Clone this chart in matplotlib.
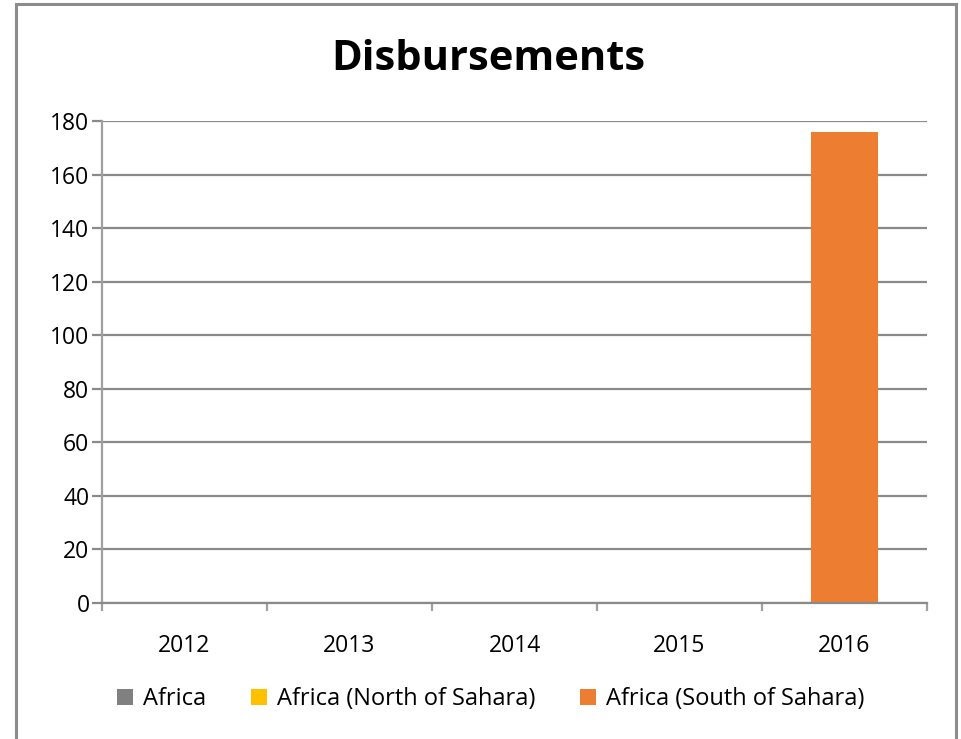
import numpy as np
import matplotlib.pyplot as plt
from matplotlib.patches import Rectangle

years = ['2012', '2013', '2014', '2015', '2016']
africa = [0, 0, 0, 0, 0]
africa_north = [0, 0, 0, 0, 0.4]
africa_south = [0, 0, 0, 0, 175.4]
series_names = ['Africa', 'Africa (North of Sahara)', 'Africa (South of Sahara)']
colors = ['#808080', '#ffc000', '#ed7d31']

plt.rcParams['font.family'] = ['Open Sans', 'DejaVu Sans']

fig = plt.figure(figsize=(9.62, 7.39), dpi=100)
ax = fig.add_axes([102 / 962, 1 - 603 / 739, 825 / 962, 482 / 739])

# outer chart frame
fig.patches.append(Rectangle((16 / 962, -0.02), 940 / 962, 1 - 4 / 739 + 0.02,
                             transform=fig.transFigure, fill=False,
                             edgecolor='#8c8c8c', linewidth=2.2))

x = np.arange(len(years))
bottom = np.zeros(len(years))
for vals, name, c in zip([africa, africa_north, africa_south], series_names, colors):
    ax.bar(x, vals, width=0.41, bottom=bottom, color=c, label=name, zorder=3)
    bottom += np.array(vals)

ax.set_xlim(-0.5, len(years) - 0.5)
ax.set_ylim(0, 180)
ax.set_yticks(np.arange(0, 181, 20))
ax.yaxis.grid(True, color='#8a8a8a', linewidth=1.6, zorder=0)
ax.set_xticks(x)
ax.set_xticklabels(years)
ax.set_xticks(np.arange(-0.5, len(years), 1), minor=True)
ax.tick_params(axis='x', which='major', length=0, labelsize=16.5, pad=22)
ax.tick_params(axis='x', which='minor', length=6, color='#a0a0a0', width=1.6)
ax.tick_params(axis='y', length=7, color='#8a8a8a', width=1.6, labelsize=16.5, pad=2)

for s in ['top', 'right']:
    ax.spines[s].set_visible(False)
ax.spines['left'].set_color('#a0a0a0')
ax.spines['left'].set_linewidth(1.6)
ax.spines['bottom'].set_color('#8a8a8a')
ax.spines['bottom'].set_linewidth(1.6)
ax.spines['bottom'].set_zorder(4)

fig.text(488 / 962, 1 - 60 / 739, 'Disbursements', ha='center', va='center',
         fontsize=30, fontweight='bold')

handles, labels = ax.get_legend_handles_labels()
fig.legend(handles, labels, loc='center', bbox_to_anchor=(491 / 962, 1 - 699 / 739),
           ncol=3, frameon=False, fontsize=17, handlelength=0.65, handleheight=0.65,
           handletextpad=0.45, columnspacing=1.9)

fig.savefig('out.png', dpi=100, facecolor='white')
